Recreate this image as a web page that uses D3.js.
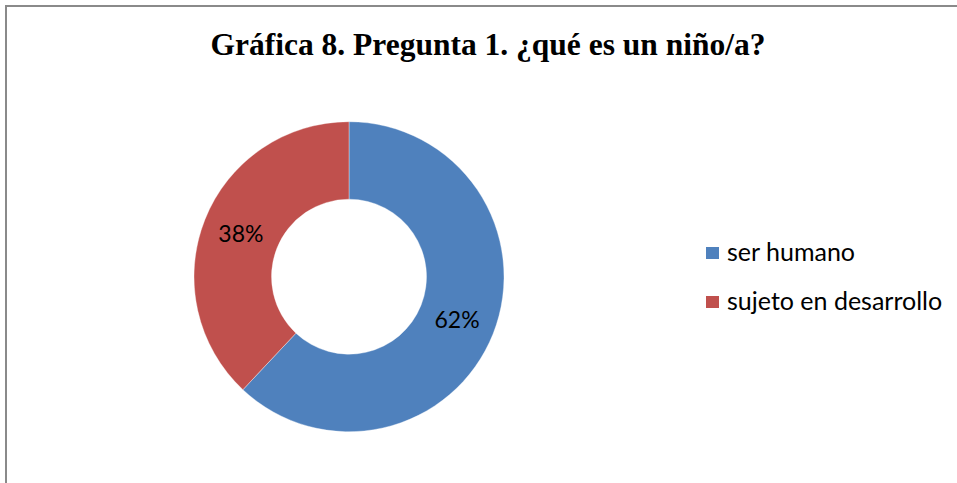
<!DOCTYPE html>
<html><head><meta charset="utf-8">
<script src="https://cdn.jsdelivr.net/npm/d3@7"></script>
<style>html,body{margin:0;padding:0;background:#fff;}svg{display:block;}</style>
</head><body>
<svg id="chart" width="957" height="483"></svg>
<script>
const title = "Gráfica 8. Pregunta 1. ¿qué es un niño/a?";
const categories = ["ser humano", "sujeto en desarrollo"];
const values = [62, 38];
const labels = ["62%", "38%"];
const colors = ["#4F81BD", "#C0504D"];

const svg = d3.select("#chart");
// border
svg.append("path").attr("d", "M6,490 V6 H960").attr("fill","none").attr("stroke","#8a8a8a").attr("stroke-width",2);

svg.append("text").attr("x", 488).attr("y", 55).attr("text-anchor","middle")
  .attr("font-family","'Liberation Serif','Times New Roman',serif").attr("font-weight","bold")
  .attr("font-size", 31.5).attr("fill","#000").text(title);

const cx = 349, cy = 276.7, R = 155, r = 77.5;
const pie = d3.pie().sort(null).value(d => d)(values);
const arc = d3.arc().innerRadius(r).outerRadius(R);
const g = svg.append("g").attr("transform", `translate(${cx},${cy})`);
g.selectAll("path").data(pie).join("path")
  .attr("d", arc).attr("fill", (d,i) => colors[i])
  .attr("stroke","#ffffff").attr("stroke-width",0.6).attr("stroke-opacity",0.6);
g.selectAll("text").data(pie).join("text")
  .attr("transform", d => `translate(${arc.centroid(d)})`)
  .attr("text-anchor","middle").attr("dy","0.36em")
  .attr("font-family","Lato, 'Open Sans', sans-serif").attr("font-size", 23).attr("fill","#000")
  .text((d,i) => labels[i]);

const leg = svg.append("g");
const ly = d3.scalePoint().domain(categories).range([253, 302]);
categories.forEach((c,i) => {
  leg.append("rect").attr("x",706).attr("y", ly(c)-6).attr("width",13).attr("height",12).attr("fill",colors[i]);
  leg.append("text").attr("x",727).attr("y", ly(c)+7.5)
    .attr("font-family","Lato, 'Open Sans', sans-serif").attr("font-size",25).attr("fill","#000").text(c);
});
</script>
</body></html>
